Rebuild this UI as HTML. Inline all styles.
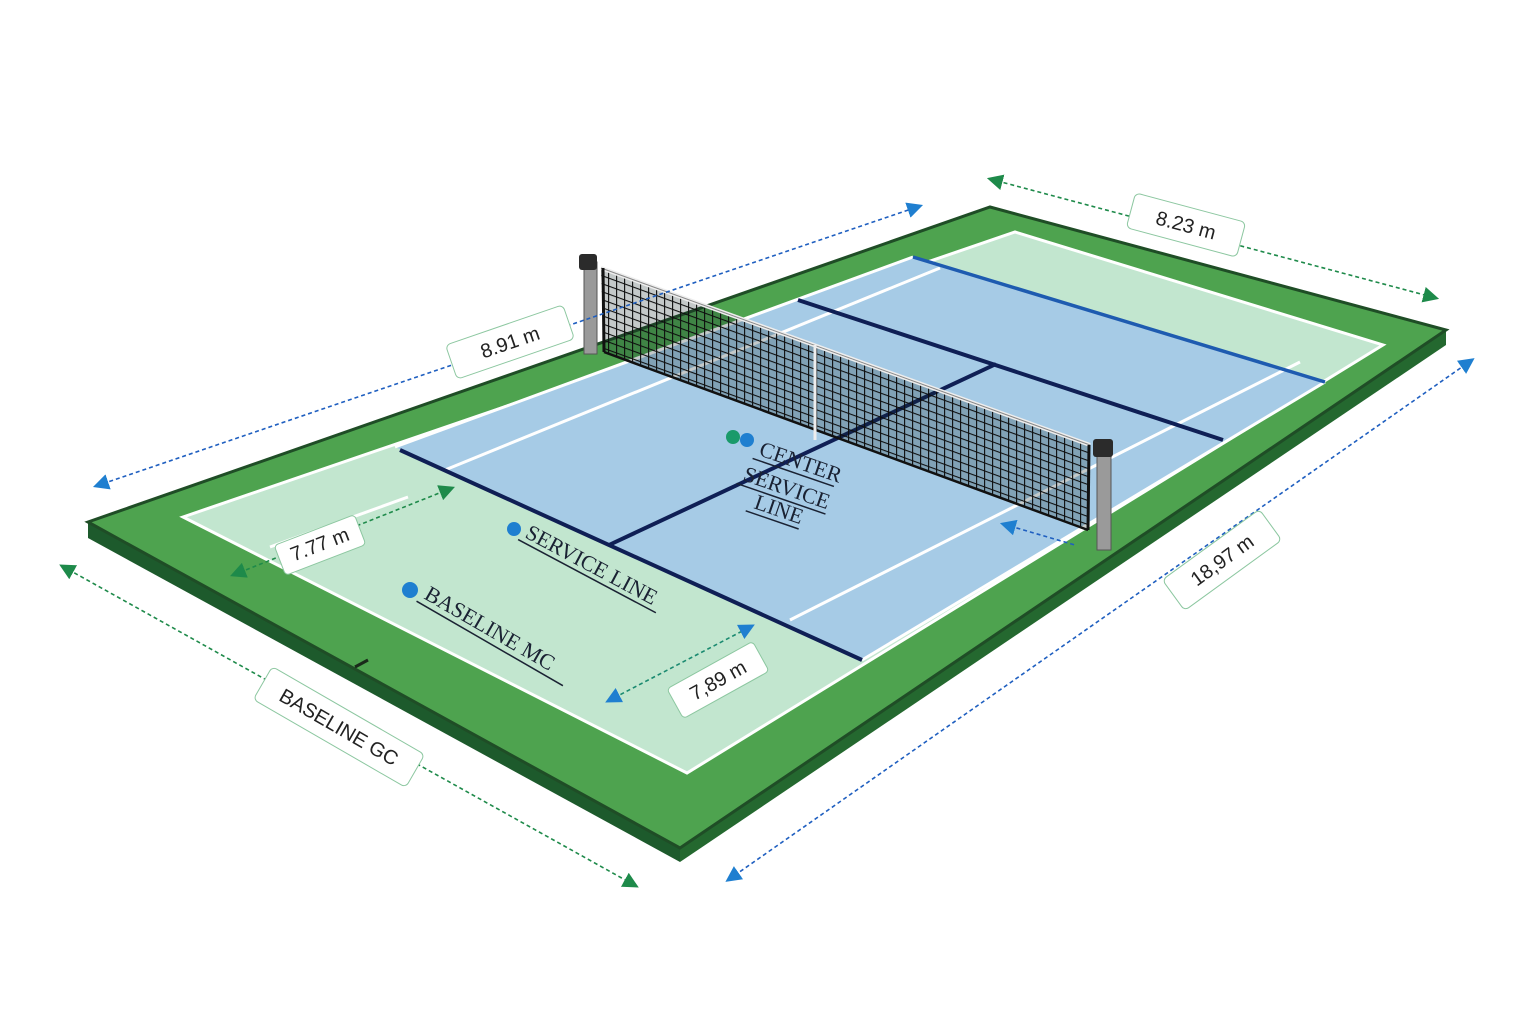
<!DOCTYPE html>
<html><head><meta charset="utf-8"><style>
html,body{margin:0;padding:0;background:#fff;}
svg{display:block;}
.lbl{font-family:"Liberation Sans",sans-serif;font-size:20px;fill:#222;}
.ser{font-family:"Liberation Serif",serif;font-size:22px;fill:#1a2233;}
</style></head><body>
<svg width="1536" height="1024" viewBox="0 0 1536 1024" xmlns="http://www.w3.org/2000/svg">
<defs>
<marker id="ab" viewBox="0 0 10 10" refX="8" refY="5" markerWidth="10" markerHeight="10" orient="auto-start-reverse"><path d="M0,0 L10,5 L0,10 z" fill="#1f7fd0"/></marker>
<marker id="ag" viewBox="0 0 10 10" refX="8" refY="5" markerWidth="10" markerHeight="10" orient="auto-start-reverse"><path d="M0,0 L10,5 L0,10 z" fill="#1e8a4a"/></marker>
<pattern id="mesh" width="8" height="8" patternUnits="userSpaceOnUse" patternTransform="skewY(20)">
<path d="M0,0 H8 M0,0 V8" stroke="#0d0d0d" stroke-width="2.2"/>
</pattern>
<clipPath id="netclip"><polygon points="601,268 1090,445 1088,530 604,352"/></clipPath>
</defs>

<polygon points="88,522 680,848 680,862 88,538" fill="#1d5a2c"/>
<polygon points="680,848 1446,330 1446,345 680,862" fill="#24682f"/>
<polygon points="88,522 990,207 1446,330 680,848" fill="#4ea34f" stroke="#1f4d26" stroke-width="3"/>
<polygon points="183,517 1015,232 1383,345 687,773" fill="#c2e6cf" stroke="#fff" stroke-width="3"/>
<polygon points="395,447 913,257 1325,382 862,660" fill="#a6cbe6"/>
<g stroke="#fff" stroke-width="3" fill="none">
<line x1="445" y1="470" x2="940" y2="268"/>
<line x1="790" y1="620" x2="1300" y2="362"/>
<line x1="270" y1="547" x2="408" y2="497"/>
<line x1="395" y1="447" x2="913" y2="257"/>
<line x1="862" y1="660" x2="1325" y2="382"/>
</g>
<g stroke="#0f1f55" stroke-width="4" fill="none">
<line x1="400" y1="450" x2="862" y2="660"/>
<line x1="798" y1="300" x2="1223" y2="440"/>
<line x1="609" y1="545" x2="996" y2="364"/>
</g>
<line x1="913" y1="257" x2="1325" y2="382" stroke="#1e5bb0" stroke-width="3.5"/>

<polygon points="601,268 1090,445 1088,530 604,352" fill="rgba(20,40,40,0.25)"/>
<rect x="590" y="250" width="510" height="300" fill="url(#mesh)" clip-path="url(#netclip)"/>
<line x1="601" y1="268" x2="1090" y2="445" stroke="#eee" stroke-width="4"/>
<line x1="601" y1="268" x2="1090" y2="445" stroke="#888" stroke-width="1"/>
<line x1="604" y1="352" x2="1088" y2="530" stroke="#111" stroke-width="2.5"/>
<line x1="815" y1="345" x2="815" y2="440" stroke="#eee" stroke-width="3"/>
<line x1="603" y1="268" x2="604" y2="352" stroke="#111" stroke-width="3"/>
<line x1="1089" y1="445" x2="1088" y2="530" stroke="#111" stroke-width="3"/>
<rect x="584" y="262" width="13" height="92" fill="#9a9a9a" stroke="#555" stroke-width="1"/>
<rect x="579" y="254" width="18" height="16" rx="3" fill="#2b2b2b"/>
<rect x="1097" y="448" width="14" height="102" fill="#9a9a9a" stroke="#555" stroke-width="1"/>
<rect x="1093" y="439" width="20" height="18" rx="3" fill="#2b2b2b"/>

<g fill="none" stroke-width="1.6" stroke-dasharray="4,3">
<line x1="96" y1="486" x2="920" y2="206" stroke="#1f5fc0" marker-start="url(#ab)" marker-end="url(#ab)"/>
<line x1="990" y1="179" x2="1436" y2="298" stroke="#1e8a4a" marker-start="url(#ag)" marker-end="url(#ag)"/>
<line x1="1472" y1="360" x2="728" y2="880" stroke="#1f5fc0" marker-start="url(#ab)" marker-end="url(#ab)"/>
<line x1="62" y1="566" x2="636" y2="886" stroke="#1e8a4a" marker-start="url(#ag)" marker-end="url(#ag)"/>
<line x1="233" y1="575" x2="452" y2="488" stroke="#1e8a4a" marker-start="url(#ag)" marker-end="url(#ag)"/>
<line x1="608" y1="701" x2="752" y2="626" stroke="#1a8a70" marker-start="url(#ab)" marker-end="url(#ab)"/>
<line x1="1003" y1="524" x2="1075" y2="545" stroke="#1f5fc0" marker-start="url(#ab)"/>
</g>

<g transform="translate(510,342) rotate(-19)"><rect x="-62" y="-18" width="124" height="36" rx="5" fill="#fff" stroke="#8cc7a0"/><text class="lbl" text-anchor="middle" y="7">8.91 m</text></g>
<g transform="translate(1186,225) rotate(15)"><rect x="-57" y="-18" width="114" height="36" rx="5" fill="#fff" stroke="#8cc7a0"/><text class="lbl" text-anchor="middle" y="7">8.23 m</text></g>
<g transform="translate(1222,560) rotate(-36)"><rect x="-60" y="-19" width="120" height="38" rx="5" fill="#fff" stroke="#8cc7a0"/><text class="lbl" text-anchor="middle" y="7">18,97 m</text></g>
<g transform="translate(339,727) rotate(30)"><rect x="-88" y="-19" width="176" height="38" rx="5" fill="#fff" stroke="#8cc7a0"/><text class="lbl" font-size="21" text-anchor="middle" y="7">BASELINE GC</text></g>
<g transform="translate(320,545) rotate(-21)"><rect x="-43" y="-16" width="86" height="32" rx="4" fill="#fff" stroke="#8cc7a0"/><text class="lbl" font-size="18" text-anchor="middle" y="6">7.77 m</text></g>
<g transform="translate(718,680) rotate(-29)"><rect x="-49" y="-17" width="98" height="34" rx="4" fill="#fff" stroke="#8cc7a0"/><text class="lbl" text-anchor="middle" y="7">7,89 m</text></g>

<circle cx="733" cy="437" r="7" fill="#1a9a6a"/>
<circle cx="747" cy="440" r="7" fill="#1f7fd0"/>
<g transform="translate(758,455) rotate(19)"><text class="ser">CENTER</text><line x1="-4" y1="5" x2="82" y2="5" stroke="#1a2233" stroke-width="1.5"/></g>
<g transform="translate(742,480) rotate(19)"><text class="ser">SERVICE</text><line x1="-4" y1="5" x2="90" y2="5" stroke="#1a2233" stroke-width="1.5"/></g>
<g transform="translate(753,508) rotate(19)"><text class="ser">LINE</text><line x1="-6" y1="5" x2="50" y2="5" stroke="#1a2233" stroke-width="1.5"/></g>
<circle cx="514" cy="529" r="7" fill="#1f7fd0"/>
<g transform="translate(524,537) rotate(28)"><text class="ser">SERVICE LINE</text><line x1="-4" y1="5" x2="152" y2="5" stroke="#1a2233" stroke-width="1.5"/></g>
<circle cx="410" cy="590" r="8" fill="#1f7fd0"/>
<g transform="translate(423,598) rotate(30)"><text class="ser" font-size="23">BASELINE MC</text><line x1="-4" y1="6" x2="165" y2="6" stroke="#1a2233" stroke-width="1.5"/></g>
<line x1="355" y1="667" x2="368" y2="660" stroke="#1a2a1a" stroke-width="3"/>
</svg>
</body></html>
